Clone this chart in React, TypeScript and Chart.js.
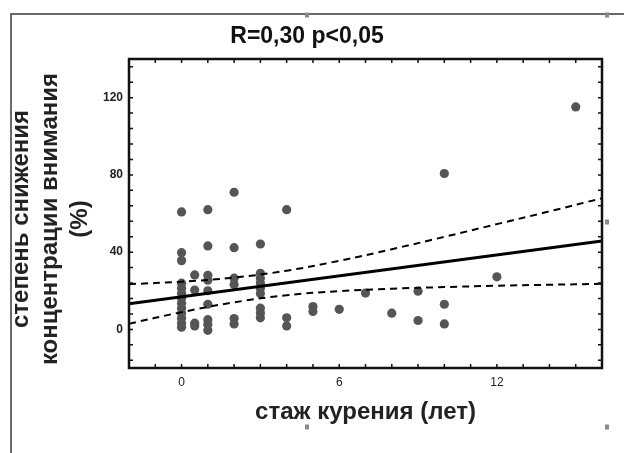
import React, { useEffect, useRef } from "react";
import { Chart, registerables } from "chart.js";

Chart.register(...registerables);

// ---- data ----
const TITLE = "R=0,30 p<0,05";
const X_TITLE = "стаж курения (лет)";
const Y_TITLE = ["степень снижения", "концентрации внимания", "(%)"];

const X_TICKS = [0, 6, 12];
const Y_TICKS = [0, 40, 80, 120];
const X_MINOR = [-1, 0, 1, 2, 3, 4, 5, 6, 7, 8, 9, 10, 11, 12, 13, 14, 15];
const Y_MINOR = [-16, -8, 0, 8, 16, 24, 32, 40, 48, 56, 64, 72, 80, 88, 96, 104, 112, 120, 128, 136];

// smoking years of each subject
const SMOKE_YEARS = [
  0, 0, 0, 0, 0, 0, 0, 0, 0, 0, 0, 0, 0,
  0.5, 0.5, 0.5, 0.5,
  1, 1, 1, 1, 1, 1, 1, 1, 1,
  2, 2, 2, 2, 2, 2,
  3, 3, 3, 3, 3, 3, 3, 3, 3,
  4, 4, 4,
  5, 5,
  6,
  7,
  8,
  9, 9,
  10, 10, 10,
  12,
  15,
];
// decrease of attention concentration (%)
const ATTENTION_DROP = [
  60.8, 39.7, 35.6, 23.9, 21.3, 18.7, 16.1, 13.5, 10.9, 8.3, 5.7, 3.2, 1.1,
  28.2, 20.4, 3.2, 1.8,
  62, 43.2, 28, 25.5, 20, 13, 5, 2.5, -0.5,
  71, 42.3, 26.5, 23.2, 5.6, 2.8,
  44.2, 29, 26.5, 24, 21.3, 18.6, 11, 8.5, 6,
  62, 6, 1.8,
  11.8, 9.3,
  10.4,
  18.8,
  8.4,
  19.8, 4.6,
  80.7, 13, 2.8,
  27.2,
  115.2,
];

// regression line and 95% confidence band
const FIT_X = [-2, 16];
const FIT_Y = [13.2, 45.8];
const BAND_X = [-2, 0, 2, 4, 6, 8, 10, 12, 14, 16];
const BAND_UPPER = [23.4, 24.7, 26.8, 30.4, 35.5, 41.5, 47.9, 54.5, 61.1, 67.9];
const BAND_LOWER = [2.95, 8.9, 14.0, 17.7, 19.8, 21.05, 21.9, 22.6, 23.1, 23.6];

const FONT = "'Liberation Sans', Arial, sans-serif";

const decorPlugin = {
  id: "decor",
  afterDatasetsDraw(chart: any) {
    const { ctx, chartArea: a, scales } = chart;
    const x = scales.x;
    const y = scales.y;
    ctx.save();
    ctx.strokeStyle = "#111";
    ctx.lineWidth = 1.5;
    ctx.beginPath();
    for (const v of X_MINOR) {
      const px = x.getPixelForValue(v);
      ctx.moveTo(px, a.top);
      ctx.lineTo(px, a.top + 4);
      ctx.moveTo(px, a.bottom);
      ctx.lineTo(px, a.bottom - 4);
    }
    for (const v of Y_MINOR) {
      const py = y.getPixelForValue(v);
      ctx.moveTo(a.left, py);
      ctx.lineTo(a.left + 4, py);
      ctx.moveTo(a.right, py);
      ctx.lineTo(a.right - 4, py);
    }
    ctx.stroke();
    ctx.lineWidth = 2.5;
    ctx.strokeRect(a.left, a.top, a.right - a.left, a.bottom - a.top);
    ctx.restore();
  },
  afterDraw(chart: any) {
    const { ctx, width, height } = chart;
    ctx.save();
    // outer frame (left and top)
    ctx.strokeStyle = "#3a3a3a";
    ctx.lineWidth = 1.5;
    ctx.beginPath();
    ctx.moveTo(11, height);
    ctx.lineTo(11, 14);
    ctx.lineTo(width, 14);
    ctx.stroke();
    // selection handles
    ctx.fillStyle = "#8a8a8a";
    const handles = [
      [307, 15],
      [607, 15],
      [607, 222],
      [307, 427],
      [607, 427],
    ];
    for (const [hx, hy] of handles) ctx.fillRect(hx - 2, hy - 2.5, 4, 5);
    // title
    ctx.fillStyle = "#111";
    ctx.font = `bold 23px ${FONT}`;
    ctx.textAlign = "center";
    ctx.textBaseline = "middle";
    ctx.fillText(TITLE, 307, 37);
    // y axis title (three rotated lines)
    ctx.fillStyle = "#222";
    ctx.font = `bold 24px ${FONT}`;
    ctx.translate(21, 219);
    ctx.rotate(-Math.PI / 2);
    Y_TITLE.forEach((line, i) => ctx.fillText(line, 0, i * 29.5));
    ctx.restore();
  },
};

export default function App() {
  const ref = useRef<HTMLCanvasElement | null>(null);

  useEffect(() => {
    if (!ref.current) return;
    const points = SMOKE_YEARS.map((xv, i) => ({ x: xv, y: ATTENTION_DROP[i] }));
    const fit = FIT_X.map((xv, i) => ({ x: xv, y: FIT_Y[i] }));
    const upper = BAND_X.map((xv, i) => ({ x: xv, y: BAND_UPPER[i] }));
    const lower = BAND_X.map((xv, i) => ({ x: xv, y: BAND_LOWER[i] }));

    const chart = new Chart(ref.current, {
      type: "scatter",
      data: {
        datasets: [
          {
            type: "line",
            label: "fit",
            data: fit,
            borderColor: "#000",
            borderWidth: 3,
            pointRadius: 0,
            fill: false,
          },
          {
            type: "line",
            label: "upper",
            data: upper,
            borderColor: "#000",
            borderWidth: 2,
            borderDash: [7, 5],
            pointRadius: 0,
            tension: 0.4,
            fill: false,
          },
          {
            type: "line",
            label: "lower",
            data: lower,
            borderColor: "#000",
            borderWidth: 2,
            borderDash: [7, 5],
            pointRadius: 0,
            tension: 0.4,
            fill: false,
          },
          {
            label: "data",
            data: points,
            backgroundColor: "#555555",
            borderWidth: 0,
            pointRadius: 4.6,
          },
        ] as any,
      },
      options: {
        animation: false,
        responsive: false,
        events: [],
        layout: { padding: { top: 59, right: 22, left: 0, bottom: 0 } },
        plugins: {
          legend: { display: false },
          title: { display: false },
          tooltip: { enabled: false },
        },
        scales: {
          x: {
            type: "linear",
            min: -2,
            max: 16,
            grid: { display: false, drawTicks: false },
            border: { display: false },
            afterBuildTicks: (s: any) => {
              s.ticks = X_TICKS.map((v) => ({ value: v }));
            },
            afterFit: (s: any) => {
              s.height = 85;
            },
            ticks: {
              color: "#222",
              padding: 7,
              font: { family: FONT, size: 12 },
            },
            title: {
              display: true,
              text: X_TITLE,
              color: "#222",
              font: { family: FONT, size: 24, weight: "bold" },
              padding: { top: 0, bottom: 26 },
            },
          },
          y: {
            type: "linear",
            min: -20,
            max: 140,
            grid: { display: false, drawTicks: false },
            border: { display: false },
            afterBuildTicks: (s: any) => {
              s.ticks = Y_TICKS.map((v) => ({ value: v }));
            },
            afterFit: (s: any) => {
              s.width = 129;
            },
            ticks: {
              color: "#222",
              padding: 6,
              font: { family: FONT, size: 12, weight: "bold" },
            },
            title: { display: false },
          },
        },
      },
      plugins: [decorPlugin],
    } as any);

    return () => chart.destroy();
  }, []);

  return (
    <div style={{ position: "fixed", left: 0, top: 0, width: 624, height: 453, background: "#fff" }}>
      <canvas ref={ref} width={624} height={453} style={{ display: "block" }} />
    </div>
  );
}
